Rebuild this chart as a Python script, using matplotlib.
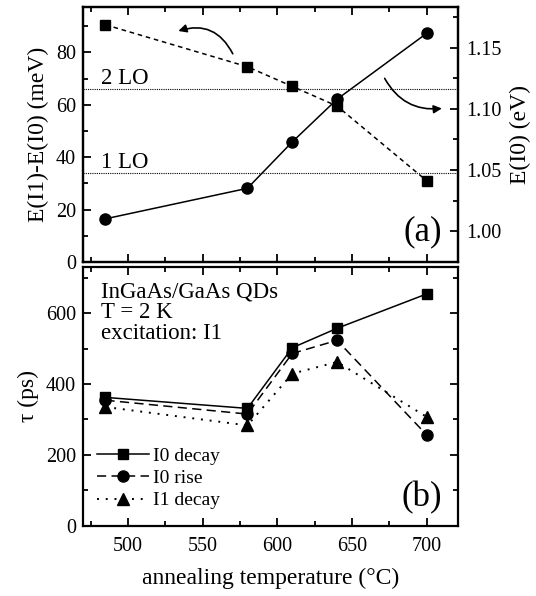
import matplotlib.pyplot as plt
from matplotlib.ticker import MultipleLocator

plt.rcParams['font.family'] = ['Liberation Serif', 'DejaVu Serif']

# annealing temperatures (°C)
temps = [485, 580, 610, 640, 700]

# panel (a)
e_diff_mev = [90.5, 74.5, 67, 59.5, 31]          # E(I1)-E(I0), left axis
e_i0_ev = [1.010, 1.035, 1.073, 1.108, 1.162]    # E(I0), right axis
lo_lines = [34, 66]
lo_labels = ['1 LO', '2 LO']

# panel (b)
i0_decay = [362, 331, 502, 557, 654]
i0_rise = [354, 315, 486, 523, 256]
i1_decay = [335, 283, 429, 462, 307]

fig = plt.figure(figsize=(5.36, 5.96), dpi=100)
ax1 = fig.add_axes([0.155, 0.5604, 0.6996, 0.4279])
ax2 = fig.add_axes([0.155, 0.1180, 0.6996, 0.4340])
ax1r = ax1.twinx()

fs = 14.5
lab_fs = 17
txt_fs = 16.5


def style(ax, top=True, right=True):
    for s in ax.spines.values():
        s.set_linewidth(1.6)
    ax.tick_params(which='both', direction='in', top=top, right=right,
                   labelsize=fs, width=1.3, pad=5)
    ax.tick_params(which='major', length=6)
    ax.tick_params(which='minor', length=3.5)


# ---- panel (a)
ax1.plot(temps, e_diff_mev, 's', ls=(0, (3, 2.5)), color='black', lw=1.1, ms=7)
for y, lab in zip(lo_lines, lo_labels):
    ax1.axhline(y, color='black', ls=(0, (1, 1)), lw=0.8)
    ax1.text(482, y + 1.8, lab, fontsize=txt_fs)
ax1.set_xlim(470, 721)
ax1.set_ylim(0, 97.3)
ax1.xaxis.set_major_locator(MultipleLocator(50))
ax1.xaxis.set_minor_locator(MultipleLocator(25))
ax1.yaxis.set_major_locator(MultipleLocator(20))
ax1.yaxis.set_minor_locator(MultipleLocator(10))
style(ax1, right=False)
ax1.tick_params(labelbottom=False)
ax1.set_ylabel('E(I1)-E(I0) (meV)', fontsize=lab_fs, labelpad=5)
ax1.text(0.957, 0.12, '(a)', transform=ax1.transAxes, fontsize=25,
         ha='right', va='center')

ax1.annotate('', xy=(532, 87.8), xytext=(571, 78.5),
             arrowprops=dict(arrowstyle='-|>', color='black', lw=1.2,
                             connectionstyle='arc3,rad=0.45',
                             mutation_scale=12))
ax1.annotate('', xy=(712, 58.7), xytext=(671, 71),
             arrowprops=dict(arrowstyle='-|>', color='black', lw=1.2,
                             connectionstyle='arc3,rad=0.35',
                             mutation_scale=12))

ax1r.plot(temps, e_i0_ev, 'o-', color='black', lw=1.1, ms=8)
ax1r.set_ylim(0.9746, 1.1836)
ax1r.yaxis.set_major_locator(MultipleLocator(0.05))
ax1r.yaxis.set_minor_locator(MultipleLocator(0.025))
ax1r.yaxis.set_major_formatter(plt.FormatStrFormatter('%.2f'))
style(ax1r, top=False)
ax1r.tick_params(which='both', left=False, right=True, labelright=True,
                 direction='in', pad=6)
ax1r.set_ylabel('E(I0) (eV)', fontsize=lab_fs, labelpad=6)

# ---- panel (b)
ax2.plot(temps, i0_decay, 's-', color='black', lw=1.1, ms=7, label='I0 decay')
ax2.plot(temps, i0_rise, 'o', ls=(0, (6, 3.5)), color='black', lw=1.1, ms=8,
         label='I0 rise')
ax2.plot(temps, i1_decay, '^', ls=(0, (1, 3.5)), color='black', lw=1.4, ms=8,
         label='I1 decay')
ax2.set_xlim(470, 721)
ax2.set_ylim(0, 730)
ax2.xaxis.set_major_locator(MultipleLocator(50))
ax2.xaxis.set_minor_locator(MultipleLocator(25))
ax2.yaxis.set_major_locator(MultipleLocator(200))
ax2.yaxis.set_minor_locator(MultipleLocator(100))
style(ax2)
ax2.tick_params(axis='x', pad=8)
ax2.set_ylabel('τ (ps)', fontsize=lab_fs, labelpad=5)
ax2.set_xlabel('annealing temperature (°C)', fontsize=lab_fs, labelpad=9)
ax2.text(0.047, 0.945, 'InGaAs/GaAs QDs\nT = 2 K\nexcitation: I1',
         transform=ax2.transAxes, fontsize=txt_fs, va='top', ha='left',
         linespacing=1.0)
ax2.text(0.957, 0.11, '(b)', transform=ax2.transAxes, fontsize=25,
         ha='right', va='center')
ax2.legend(loc='lower left', frameon=False, fontsize=14, handlelength=2.7,
           handletextpad=0.2, labelspacing=0.25, borderaxespad=0.3,
           bbox_to_anchor=(0.0, 0.01))

fig.savefig('out.png', dpi=100)
